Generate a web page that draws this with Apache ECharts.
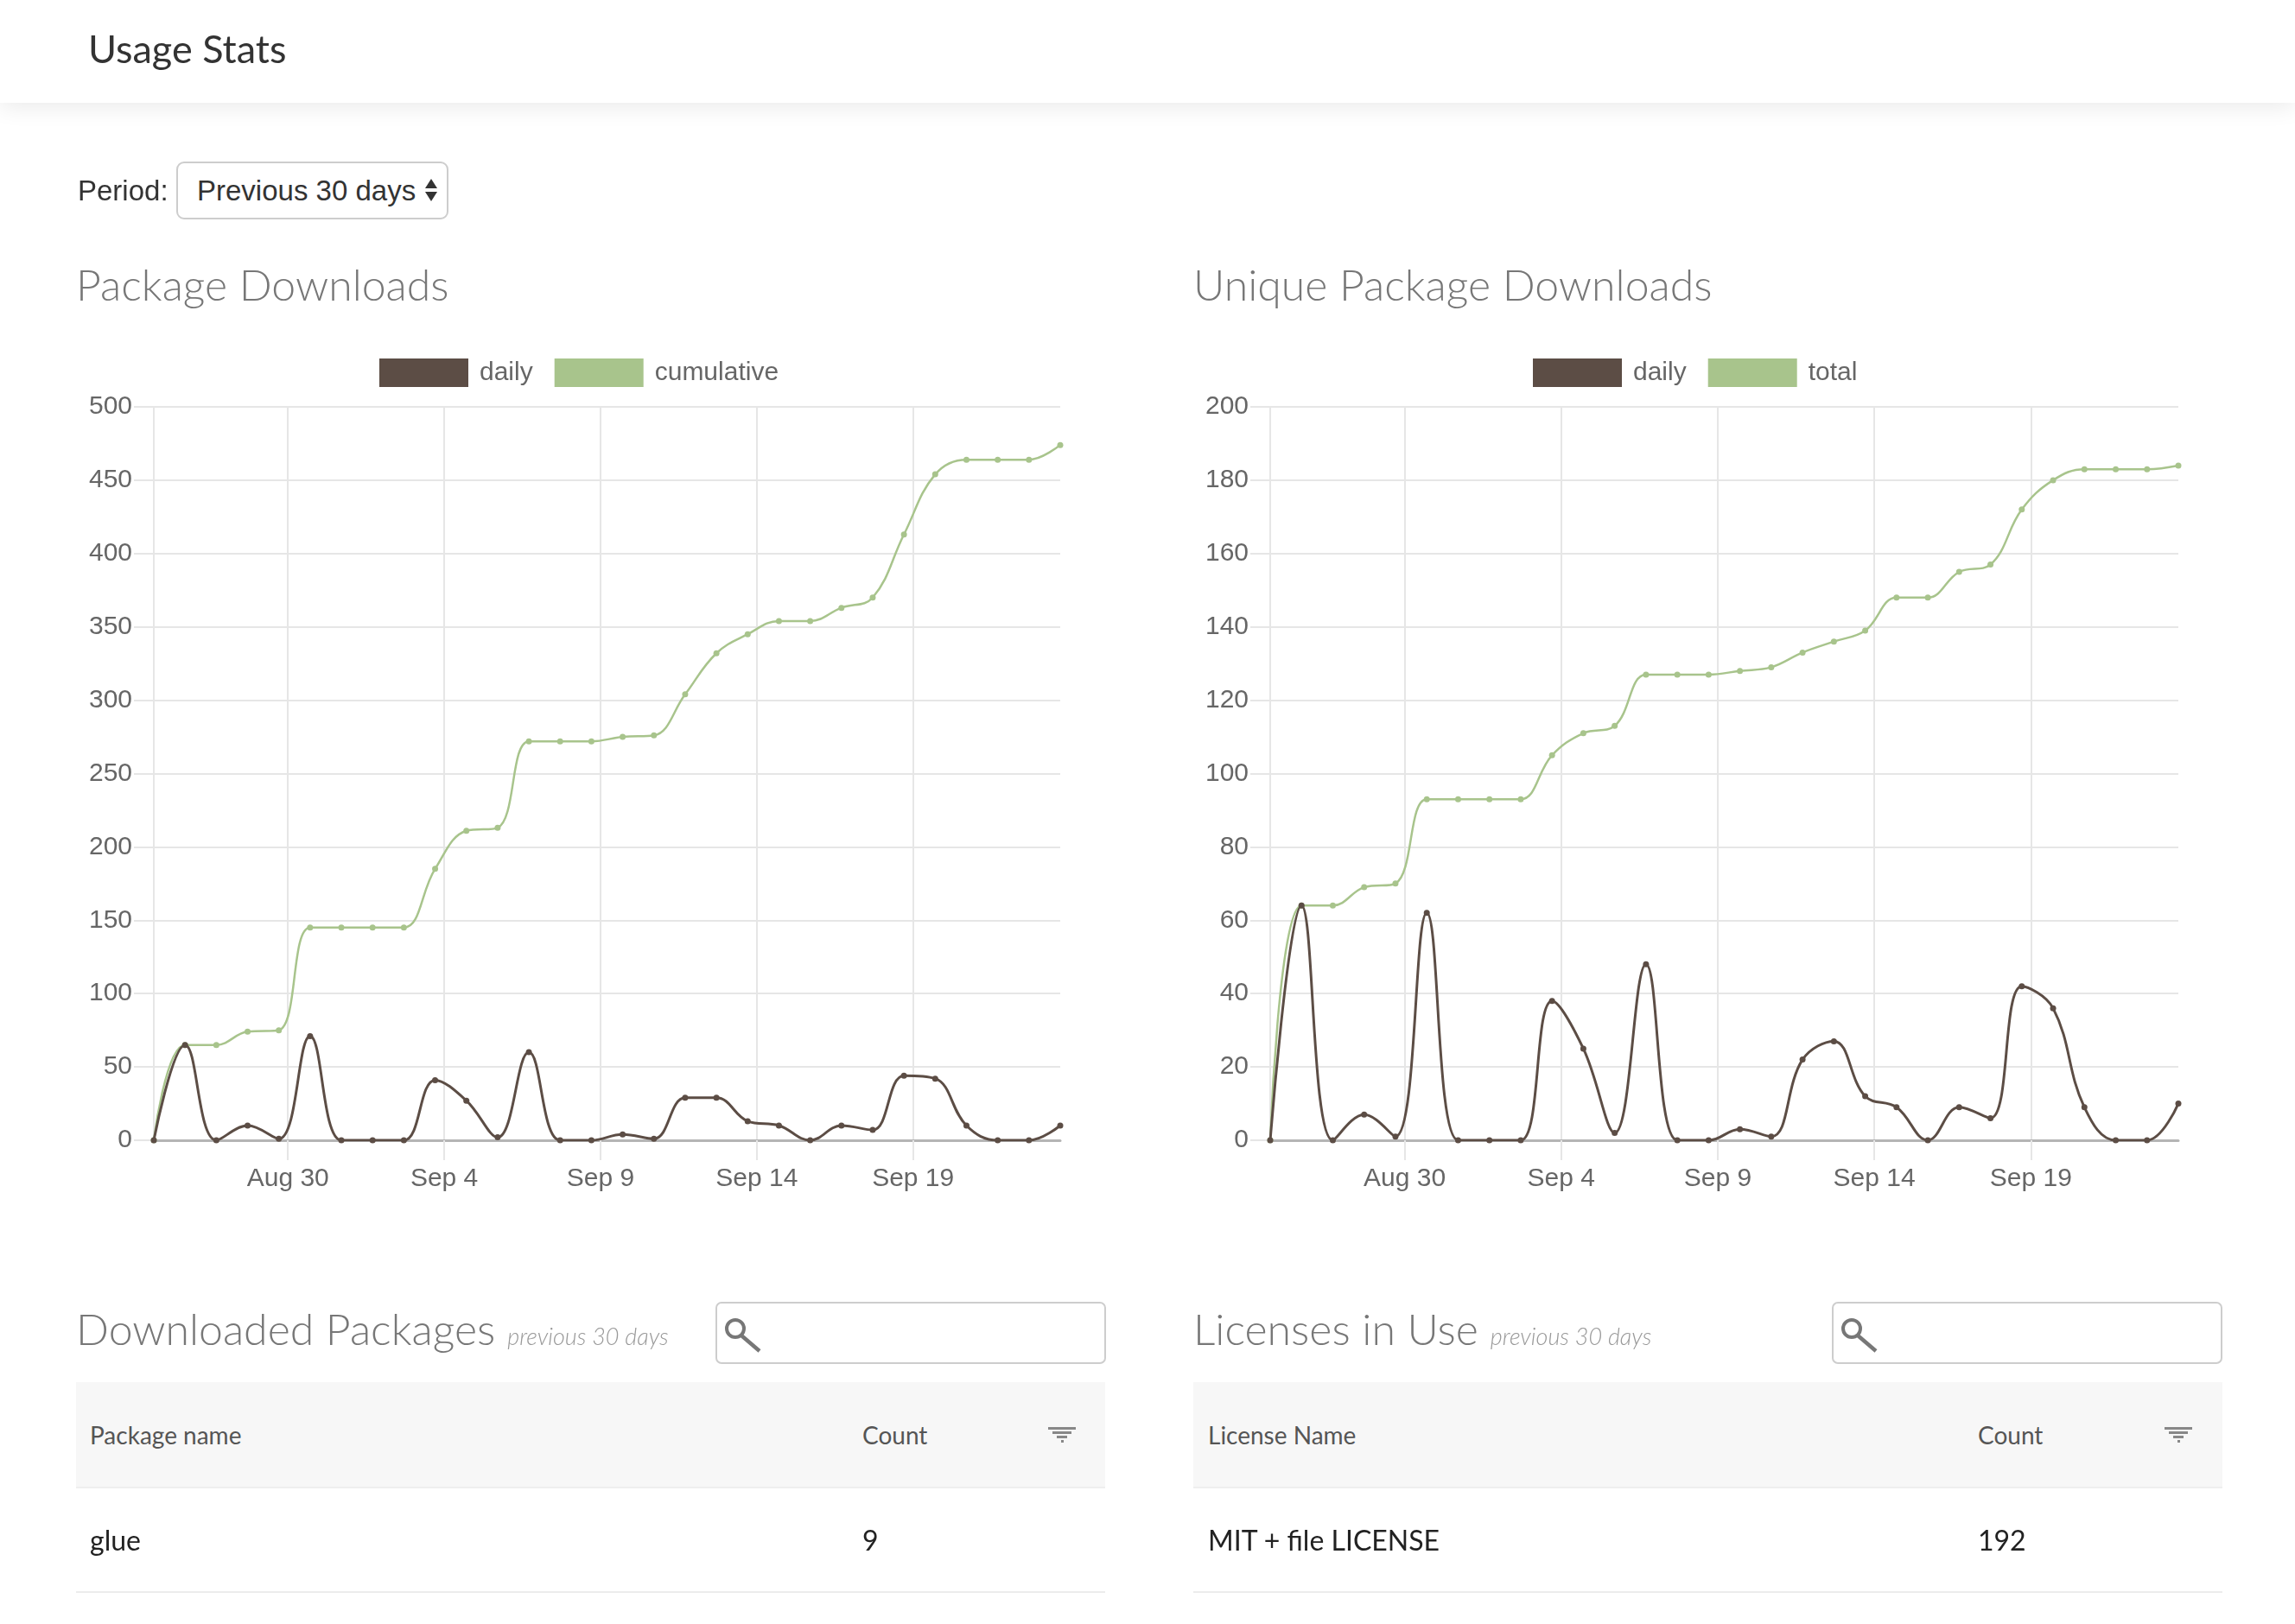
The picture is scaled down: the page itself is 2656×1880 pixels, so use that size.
<!DOCTYPE html>
<html><head><meta charset="utf-8">
<script src="https://cdn.jsdelivr.net/npm/echarts@6/dist/echarts.min.js"></script>
<style>
html,body{margin:0;padding:0;background:#fff;}
body{width:2656px;height:1880px;position:relative;overflow:hidden;font-family:Lato,"Noto Sans",sans-serif;}
#chart{position:absolute;left:0;top:0;width:2656px;height:1880px;z-index:0;}
.abs{position:absolute;z-index:1;white-space:nowrap;}
#header{position:absolute;left:0;top:0;width:2656px;height:119px;background:#fff;box-shadow:0 4px 26px rgba(0,0,0,0.09);z-index:2;}
#header .t{position:absolute;left:102px;top:0;line-height:112px;font-size:45px;color:#333;font-family:Lato;}
.helv{font-family:"Liberation Sans",Arial,sans-serif;}
.sect{font-family:Lato;font-weight:300;font-size:50px;line-height:60px;color:#777;}
.sect .sub{font-style:italic;font-size:27px;color:#999;margin-left:14px;}
.box{position:absolute;z-index:1;box-sizing:border-box;border:2px solid #cdcdcd;border-radius:7px;background:#fff;}
.thead{position:absolute;z-index:1;background:#f7f7f7;border-bottom:2px solid #efefef;box-sizing:border-box;}
.th{font-family:Lato;font-size:28px;line-height:40px;color:#555;}
.td{font-family:Lato;font-size:32px;line-height:60px;color:#222;}
.rowline{position:absolute;height:2px;background:#ececec;z-index:1;}
</style></head>
<body>
<div id="chart"></div>
<div id="header"><div class="t">Usage Stats</div></div>

<div class="abs helv" style="left:90px;top:188px;line-height:66px;font-size:33px;color:#333;">Period:</div>
<div class="box" style="left:204px;top:187px;width:315px;height:67px;border-radius:9px;"></div>
<div class="abs helv" style="left:228px;top:188px;line-height:66px;font-size:33px;color:#333;">Previous 30 days</div>
<svg class="abs" style="left:488px;top:204px;" width="22" height="32" viewBox="0 0 22 32">
  <polygon points="4,14 18,14 11,3" fill="#333"/><polygon points="4,18 18,18 11,29" fill="#333"/>
</svg>

<div class="abs sect" style="left:88px;top:299px;">Package Downloads</div>
<div class="abs sect" style="left:1381px;top:299px;">Unique Package Downloads</div>

<div class="abs sect" style="left:88px;top:1508px;">Downloaded Packages<span class="sub">previous 30 days</span></div>
<div class="box" style="left:828px;top:1507px;width:452px;height:72px;"></div>
<svg class="abs" style="left:828px;top:1507px;" width="70" height="72" viewBox="0 0 70 72">
  <circle cx="23" cy="31" r="10" fill="none" stroke="#777" stroke-width="4"/>
  <line x1="30" y1="39" x2="51" y2="57" stroke="#777" stroke-width="4.5"/>
</svg>
<div class="thead" style="left:88px;top:1600px;width:1191px;height:123px;"></div>
<div class="abs th" style="left:104px;top:1641px;">Package name</div>
<div class="abs th" style="left:998px;top:1641px;">Count</div>
<svg class="abs" style="left:1210px;top:1648px;" width="40" height="26" viewBox="0 0 40 26">
  <rect x="3" y="4" width="32" height="3" fill="#888"/><rect x="8" y="9" width="22" height="3" fill="#888"/>
  <rect x="13" y="14" width="12" height="3" fill="#888"/><rect x="18" y="19" width="3" height="3" fill="#888"/>
</svg>
<div class="abs td" style="left:104px;top:1753px;">glue</div>
<div class="abs td" style="left:998px;top:1753px;">9</div>
<div class="rowline" style="left:88px;top:1842px;width:1191px;"></div>

<div class="abs sect" style="left:1381px;top:1508px;">Licenses in Use<span class="sub">previous 30 days</span></div>
<div class="box" style="left:2120px;top:1507px;width:452px;height:72px;"></div>
<svg class="abs" style="left:2120px;top:1507px;" width="70" height="72" viewBox="0 0 70 72">
  <circle cx="23" cy="31" r="10" fill="none" stroke="#777" stroke-width="4"/>
  <line x1="30" y1="39" x2="51" y2="57" stroke="#777" stroke-width="4.5"/>
</svg>
<div class="thead" style="left:1381px;top:1600px;width:1191px;height:123px;"></div>
<div class="abs th" style="left:1398px;top:1641px;">License Name</div>
<div class="abs th" style="left:2289px;top:1641px;">Count</div>
<svg class="abs" style="left:2502px;top:1648px;" width="40" height="26" viewBox="0 0 40 26">
  <rect x="3" y="4" width="32" height="3" fill="#888"/><rect x="8" y="9" width="22" height="3" fill="#888"/>
  <rect x="13" y="14" width="12" height="3" fill="#888"/><rect x="18" y="19" width="3" height="3" fill="#888"/>
</svg>
<div class="abs td" style="left:1398px;top:1753px;">MIT + file LICENSE</div>
<div class="abs td" style="left:2289px;top:1753px;">192</div>
<div class="rowline" style="left:1381px;top:1842px;width:1191px;"></div>

<script>
// ---- data ----
const dates = ['2023-08-26','2023-08-27','2023-08-28','2023-08-29','2023-08-30','2023-08-31',
  '2023-09-01','2023-09-02','2023-09-03','2023-09-04','2023-09-05','2023-09-06','2023-09-07',
  '2023-09-08','2023-09-09','2023-09-10','2023-09-11','2023-09-12','2023-09-13','2023-09-14',
  '2023-09-15','2023-09-16','2023-09-17','2023-09-18','2023-09-19','2023-09-20','2023-09-21',
  '2023-09-22','2023-09-23','2023-09-24'];
const dailyDownloads = [0,65,0,10,1,71,0,0,0,41,27,2,60,0,0,4,1,29,29,13,10,0,10,7,44,42,10,0,0,10];
const cumulativeDownloads = [0,65,65,74,75,145,145,145,145,185,211,213,272,272,272,275,276,304,332,345,354,354,363,370,413,454,464,464,464,474];
const dailyUnique = [0,64,0,7,1,62,0,0,0,38,25,2,48,0,0,3,1,22,27,12,9,0,9,6,42,36,9,0,0,10];
const totalUnique = [0,64,64,69,70,93,93,93,93,105,111,113,127,127,127,128,129,133,136,139,148,148,155,157,172,180,183,183,183,184];
const monthNames = ['Jan','Feb','Mar','Apr','May','Jun','Jul','Aug','Sep','Oct','Nov','Dec'];
const legendLeft = ['daily','cumulative'];
const legendRight = ['daily','total'];

// time handling: day numbers counted from an origin so that label dates fall on multiples of 5
const ORIGIN = Date.UTC(2023,7,25);
const DAY = 86400000;
const TZ_SHIFT = -7/24; // data stamped at UTC midnight, shown in local (UTC-7) time
function toX(d){ const p=d.split('-').map(Number); return (Date.UTC(p[0],p[1]-1,p[2])-ORIGIN)/DAY + TZ_SHIFT; }
const xs = dates.map(toX);
function fmtDay(v){
  const r = Math.round(v);
  if (Math.abs(v-r) > 1e-6 || r % 5 !== 0) return '';
  const dt = new Date(ORIGIN + r*DAY);
  return monthNames[dt.getUTCMonth()] + ' ' + dt.getUTCDate();
}

const BROWN = '#5c4d45', GREEN = '#a8c48c';
const GRID_C = '#e6e6e6', LABEL_C = '#666', FONT = 'Liberation Sans';

function xAxis(gi){
  return {type:'value', gridIndex:gi, min:xs[0], max:xs[xs.length-1], splitNumber:5,
    axisLine:{show:true, onZero:false, lineStyle:{color:'#b5b5b5', width:3}},
    axisTick:{show:true, length:23, lineStyle:{color:GRID_C, width:2}},
    splitLine:{show:true, showMinLine:false, showMaxLine:false, lineStyle:{color:GRID_C, width:2}},
    axisLabel:{formatter:fmtDay, showMinLabel:false, showMaxLabel:false, margin:30, fontSize:30, color:LABEL_C, fontFamily:FONT}
  };
}
function yAxis(gi, max, interval){
  return {type:'value', gridIndex:gi, min:0, max:max, interval:interval,
    axisLine:{show:true, lineStyle:{color:GRID_C, width:2}},
    axisTick:{show:true, length:23, lineStyle:{color:GRID_C, width:2}},
    splitLine:{show:true, showMinLine:false, lineStyle:{color:GRID_C, width:2}},
    axisLabel:{margin:25, fontSize:30, color:LABEL_C, fontFamily:FONT}
  };
}
function lineSeries(name, values, color, gi, z, w){
  return {name:name, type:'line', xAxisIndex:gi, yAxisIndex:gi,
    data: values.map((v,i)=>[xs[i], v]), smooth:0.4, symbol:'circle', symbolSize:7, showSymbol:true,
    lineStyle:{color:color, width:w}, itemStyle:{color:color}, z:z, animation:false};
}
function legend(left, data){
  return {left:left, top:415, padding:0, orient:'horizontal', data:data, icon:'rect', itemWidth:103, itemHeight:33, itemGap:25,
    selectedMode:false, textStyle:{fontSize:30, color:LABEL_C, fontFamily:FONT, padding:[0,0,0,8]}};
}

const chart = echarts.init(document.getElementById('chart'), null, {renderer:'canvas'});
chart.setOption({
  backgroundColor:'transparent',
  animation:false,
  legend:[legend(439, legendLeft), legend(1774, legendRight)],
  grid:[
    {left:178, top:471, width:1049, height:849, outerBoundsMode:'none', containLabel:false},
    {left:1470, top:471, width:1051, height:849, outerBoundsMode:'none', containLabel:false}
  ],
  xAxis:[xAxis(0), xAxis(1)],
  yAxis:[yAxis(0,500,50), yAxis(1,200,20)],
  series:[
    lineSeries('daily', dailyDownloads, BROWN, 0, 3, 3),
    lineSeries('cumulative', cumulativeDownloads, GREEN, 0, 2, 2.5),
    lineSeries('daily', dailyUnique, BROWN, 1, 3, 3),
    lineSeries('total', totalUnique, GREEN, 1, 2, 2.5)
  ]
});
</script>
</body></html>
